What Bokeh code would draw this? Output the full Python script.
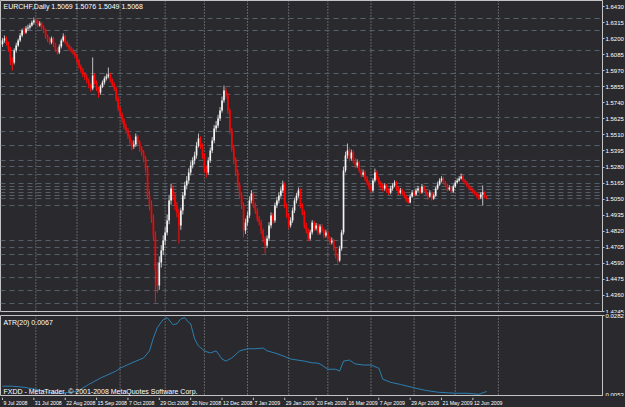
import pandas as pd
from bokeh.plotting import figure
from bokeh.layouts import column
from bokeh.models import Range1d, FixedTicker, PrintfTickFormatter, Span, Label, ColumnDataSource
from bokeh.core.properties import value
from bokeh.embed import file_html
from bokeh.resources import INLINE

symbol_title = "EURCHF,Daily  1.5069 1.5076 1.5049 1.5068"
atr_title = "ATR(20) 0.0067"
footer = "FXDD - MetaTrader, \u00a9 2001-2008 MetaQuotes Software Corp."

first_date = "2008-07-09"
holidays = ["2008-12-25", "2009-01-01"]

# prices in pips (1/10000)
open_pips = [
16160,16186,16201,16165,16129,16043,16029,16115,16151,16186,
16222,16258,16244,16272,16280,16294,16315,16330,16323,16294,
16308,16280,16258,16215,16194,16172,16201,16158,16122,16100,
16143,16186,16215,16172,16151,16129,16115,16100,16079,16043,
16000,15971,15943,15928,15900,15864,15842,15936,15885,15842,
15814,15857,15885,15914,15928,15943,15900,15871,15842,15771,
15699,15656,15613,15570,15541,15499,15456,15427,15441,15499,
15456,15413,15384,15341,15269,15076,15004,14911,14789,14538,
14431,14596,14682,14753,14811,14897,15040,15126,15076,15004,
14954,14861,14968,15076,15148,15183,15241,15291,15327,15362,
15434,15484,15434,15362,15269,15241,15327,15398,15470,15556,
15577,15628,15685,15757,15828,15792,15685,15541,15413,15327,
15241,15148,15076,15004,14825,14882,14933,15040,15090,15004,
14968,14911,14882,14825,14768,14718,14768,14861,14933,14897,
15004,15040,15076,15112,15155,15004,14933,14861,14897,14968,
15040,15076,15112,15004,14954,14861,14825,14768,14811,14882,
14839,14861,14811,14854,14825,14789,14811,14768,14739,14753,
14696,14646,14610,14696,14811,15255,15362,15398,15341,15384,
15327,15291,15312,15255,15226,15241,15198,15169,15140,15112,
15183,15241,15198,15169,15140,15126,15148,15112,15097,15126,
15148,15169,15126,15097,15112,15090,15069,15047,15026,15069,
15097,15083,15112,15126,15097,15140,15112,15083,15069,15097,
15054,15076,15126,15155,15183,15198,15169,15148,15119,15133,
15104,15140,15169,15183,15198,15212,15183,15169,15148,15133,
15119,15104,15090,15076,15061,15083,15097,15069]

high_pips = [
16205,16222,16215,16178,16140,16065,16130,16170,16200,16240,
16272,16280,16290,16300,16310,16330,16351,16345,16335,16325,
16318,16295,16270,16230,16210,16215,16212,16170,16135,16160,
16200,16237,16225,16185,16165,16145,16130,16112,16090,16055,
16015,15990,15960,15945,15915,15880,16065,15950,15900,15855,
15870,15900,15930,15950,15993,15955,15915,15885,15855,15785,
15715,15670,15630,15590,15560,15515,15475,15470,15520,15510,
15470,15430,15400,15360,15290,15110,15040,14940,14820,14600,
14640,14720,14790,14850,14940,15080,15160,15150,15100,15030,
14980,14990,15100,15175,15215,15270,15320,15350,15390,15460,
15520,15500,15450,15380,15290,15350,15420,15495,15580,15610,
15655,15710,15785,15864,15850,15810,15700,15560,15440,15350,
15265,15170,15100,15025,14910,14960,15070,15115,15105,15025,
14985,14930,14900,14840,14785,14790,14885,14955,14950,15025,
15065,15100,15135,15183,15170,15020,14950,14920,14990,15060,
15095,15133,15125,15020,14970,14880,14840,14830,14900,14895,
14880,14875,14870,14870,14840,14830,14825,14785,14775,14765,
14710,14660,14715,14830,15280,15390,15448,15420,15405,15400,
15345,15335,15325,15270,15262,15255,15215,15185,15155,15200,
15269,15255,15212,15180,15160,15165,15160,15130,15145,15165,
15185,15180,15140,15130,15125,15105,15080,15060,15085,15115,
15110,15128,15145,15135,15160,15150,15125,15095,15115,15105,
15090,15140,15175,15200,15215,15210,15180,15160,15150,15145,
15155,15185,15200,15215,15233,15225,15195,15180,15160,15145,
15130,15115,15100,15090,15100,15148,15105,15076]

low_pips = [
16140,16170,16150,16105,16010,15971,16015,16100,16140,16175,
16210,16230,16235,16255,16265,16285,16300,16305,16280,16285,
16265,16240,16200,16175,16155,16160,16140,16105,16085,16090,
16130,16175,16160,16140,16115,16100,16085,16060,16025,15985,
15955,15925,15905,15880,15845,15820,15830,15870,15825,15778,
15800,15845,15870,15900,15915,15885,15855,15825,15750,15680,
15635,15590,15550,15520,15480,15435,15400,15410,15425,15440,
15390,15360,15315,15240,15050,14970,14880,14750,14309,14380,
14400,14560,14650,14720,14790,14870,15010,15040,14970,14920,
14732,14830,14940,15050,15120,15160,15220,15270,15300,15340,
15420,15410,15340,15240,15205,15225,15310,15380,15450,15530,
15560,15610,15670,15740,15770,15660,15515,15390,15300,15215,
15120,15050,14980,14775,14800,14860,14915,15020,14985,14945,
14890,14860,14800,14740,14660,14700,14750,14840,14875,14880,
14985,15020,15060,15095,14985,14915,14840,14845,14880,14950,
15020,15060,14985,14935,14840,14805,14750,14755,14795,14820,
14825,14795,14795,14810,14770,14775,14750,14720,14725,14680,
14625,14589,14600,14680,14795,15240,15340,15320,15325,15305,
15270,15275,15240,15205,15210,15180,15150,15120,15095,15100,
15170,15185,15150,15125,15105,15110,15095,15080,15085,15110,
15135,15110,15080,15085,15075,15055,15030,15019,15020,15060,
15070,15075,15100,15085,15090,15100,15070,15045,15060,15040,
15045,15065,15115,15145,15170,15155,15135,15105,15110,15090,
15095,15130,15160,15175,15190,15170,15155,15135,15120,15105,
15090,15075,15060,15045,15050,15004,15055,15049]

close_pips = [
16186,16201,16165,16129,16043,16029,16115,16151,16186,16222,
16258,16244,16272,16280,16294,16315,16330,16323,16294,16308,
16280,16258,16215,16194,16172,16201,16158,16122,16100,16143,
16186,16215,16172,16151,16129,16115,16100,16079,16043,16000,
15971,15943,15928,15900,15864,15842,15936,15885,15842,15814,
15857,15885,15914,15928,15943,15900,15871,15842,15771,15699,
15656,15613,15570,15541,15499,15456,15427,15441,15499,15456,
15413,15384,15341,15269,15076,15004,14911,14789,14538,14431,
14596,14682,14753,14811,14897,15040,15126,15076,15004,14954,
14861,14968,15076,15148,15183,15241,15291,15327,15362,15434,
15484,15434,15362,15269,15241,15327,15398,15470,15556,15577,
15628,15685,15757,15828,15792,15685,15541,15413,15327,15241,
15148,15076,15004,14825,14882,14933,15040,15090,15004,14968,
14911,14882,14825,14768,14718,14768,14861,14933,14897,15004,
15040,15076,15112,15155,15004,14933,14861,14897,14968,15040,
15076,15112,15004,14954,14861,14825,14768,14811,14882,14839,
14861,14811,14854,14825,14789,14811,14768,14739,14753,14696,
14646,14610,14696,14811,15255,15362,15398,15341,15384,15327,
15291,15312,15255,15226,15241,15198,15169,15140,15112,15183,
15241,15198,15169,15140,15126,15148,15112,15097,15126,15148,
15169,15126,15097,15112,15090,15069,15047,15026,15069,15097,
15083,15112,15126,15097,15140,15112,15083,15069,15097,15054,
15076,15126,15155,15183,15198,15169,15148,15119,15133,15104,
15140,15169,15183,15198,15212,15183,15169,15148,15133,15119,
15104,15090,15076,15061,15083,15097,15069,15068]

atr_bar = [0,5,11,17,23,30,38,44,50,58,60,66,72,75,77,79,82,84,87,89,
           91,93,95,96,98,100,103,106,109,112,114,117,121,125,129,133,135,139,143,147,
           154,158,160,162,166,170,172,174,177,180,184,188,192,194,198,203,211,216,222,231,
           237,243,247]
atr_value = [0.0082,0.0082,0.0079,0.0073,0.0065,0.0062,0.0067,0.0087,0.0105,0.0125,
             0.0133,0.0148,0.0162,0.0182,0.0219,0.0248,0.0271,0.0276,0.0256,0.0259,
             0.0273,0.0276,0.0262,0.0259,0.0216,0.0196,0.0182,0.0176,0.0182,0.0159,
             0.0153,0.0162,0.0182,0.0188,0.0188,0.0190,0.0182,0.0176,0.0168,0.0159,
             0.0153,0.0148,0.0148,0.0145,0.0130,0.0130,0.0125,0.0153,0.0156,0.0145,
             0.0142,0.0142,0.0133,0.0102,0.0093,0.0087,0.0076,0.0070,0.0065,0.0062,
             0.0062,0.0059,0.0067]

hline_levels = [1.6344, 1.6258, 1.6115, 1.5950, 1.5857, 1.5800, 1.5635, 1.5534, 1.5434,
                1.5327, 1.5284, 1.5226, 1.5162, 1.5140, 1.5119, 1.5097, 1.5076, 1.5054,
                1.5004, 1.4753, 1.4703, 1.4653, 1.4581, 1.4488, 1.4395, 1.4302]

price_ticks = [1.6430, 1.6315, 1.6200, 1.6085, 1.5970, 1.5855, 1.5740, 1.5625, 1.5510, 1.5395,
               1.5280, 1.5165, 1.5050, 1.4935, 1.4820, 1.4705, 1.4590, 1.4475, 1.4360, 1.4245]
atr_ticks = [0.0053, 0.0282]

date_label_idx = [0, 16, 32, 48, 64, 80, 96, 112, 128, 144, 160, 176, 192, 208, 224, 240]
date_labels = ["9 Jul 2008", "31 Jul 2008", "22 Aug 2008", "15 Sep 2008", "7 Oct 2008",
               "29 Oct 2008", "20 Nov 2008", "12 Dec 2008", "7 Jan 2009", "29 Jan 2009",
               "20 Feb 2009", "16 Mar 2009", "7 Apr 2009", "29 Apr 2009", "21 May 2009",
               "12 Jun 2009"]

BG = "#2a2a2e"
FRAME = "#c4c4c4"
TXT = "#ffffff"
FONT = "Liberation Sans"
AXFS = "6px"

n = len(close_pips)
idx = list(range(n))
o = [v / 10000 for v in open_pips]
h = [v / 10000 for v in high_pips]
l = [v / 10000 for v in low_pips]
c = [v / 10000 for v in close_pips]
bull = [cc >= oo for oo, cc in zip(o, c)]
src = ColumnDataSource(dict(
    x=idx, high=h, low=l,
    top=[max(a, b) for a, b in zip(o, c)],
    bottom=[min(a, b) for a, b in zip(o, c)],
    body=["#f4f4f4" if b else "#ff0000" for b in bull],
    wick=["#c0c0c0" if b else "#ff1010" for b in bull],
))

# month separators (vertical grid) from the trading calendar, up to the first month after the data
all_days = [d for d in pd.bdate_range(first_date, periods=300) if d.strftime("%Y-%m-%d") not in holidays]
month_starts = [i for i in range(1, len(all_days)) if all_days[i].month != all_days[i - 1].month]
month_starts = [m for m in month_starts if m < n + 10]

FW = 602
xr = Range1d(-1.02, -1.02 + FW / 1.96)


def style_y(ax):
    ax.formatter = PrintfTickFormatter(format="%.4f")
    ax.major_label_text_font = FONT
    ax.major_label_text_font_size = AXFS
    ax.major_label_text_color = TXT
    ax.major_label_standoff = 1
    ax.major_tick_out = 2
    ax.major_tick_in = 0
    ax.minor_tick_out = 0
    ax.minor_tick_in = 0
    ax.major_tick_line_color = FRAME
    ax.axis_line_color = FRAME


p = figure(frame_width=FW, frame_height=311, x_range=xr, y_range=Range1d(1.4245, 1.6473),
           y_axis_location="right", output_backend="svg", toolbar_location=None,
           min_border_left=0, min_border_top=0, min_border_bottom=2, min_border_right=0,
           background_fill_color=BG, border_fill_color=BG, outline_line_color=FRAME)
p.xaxis.visible = False
p.grid.visible = False
ya = p.yaxis[0]
ya.ticker = FixedTicker(ticks=price_ticks)
style_y(ya)

for m in month_starts:
    p.add_layout(Span(location=m, dimension="height", line_color="#9c9c9c",
                      line_dash="1 2", line_width=1, level="underlay"))
for lv in hline_levels:
    p.add_layout(Span(location=lv, dimension="width", line_color="#56626c",
                      line_dash="5 4", line_width=1, level="underlay"))

p.segment(x0="x", y0="low", x1="x", y1="high", source=src, line_color="wick", line_width=1)
p.vbar(x="x", width=0.85, top="top", bottom="bottom", source=src, fill_color="body", line_color=None)

for lv in hline_levels:
    p.add_layout(Label(x=FW + 2, x_units="screen", y=lv, text="%.4f" % lv, text_font=FONT,
                       text_font_size=AXFS, text_color="#d6dde4", text_baseline="middle",
                       background_fill_color="#6b7d8f"))

p.add_layout(Label(x=3, y=309, x_units="screen", y_units="screen", text=symbol_title,
                   text_font=FONT, text_font_size="7px", text_color=TXT, text_baseline="top"))

a = figure(frame_width=FW, frame_height=81, x_range=xr, y_range=Range1d(0.00528, 0.02822),
           y_axis_location="right", output_backend="svg", toolbar_location=None,
           min_border_left=0, min_border_top=2, min_border_bottom=0, min_border_right=0,
           background_fill_color=BG, border_fill_color=BG, outline_line_color=FRAME)
a.grid.visible = False
a.xaxis.visible = False
ay = a.yaxis[0]
ay.ticker = FixedTicker(ticks=atr_ticks)
style_y(ay)

for m in month_starts:
    a.add_layout(Span(location=m, dimension="height", line_color="#9c9c9c",
                      line_dash="1 2", line_width=1, level="underlay"))

a.line(x=atr_bar, y=atr_value, line_color="#2b7fb0", line_width=1)

a.add_layout(Label(x=3, y=78, x_units="screen", y_units="screen", text=atr_title,
                   text_font=FONT, text_font_size="7px", text_color=TXT, text_baseline="top"))
a.add_layout(Label(x=3, y=2, x_units="screen", y_units="screen", text=footer,
                   text_font=FONT, text_font_size="7px", text_color=TXT, text_baseline="bottom"))

# time scale strip
t = figure(frame_width=FW, frame_height=11, x_range=xr, y_range=Range1d(0, 11),
           output_backend="svg", toolbar_location=None,
           min_border_left=0, min_border_top=0, min_border_bottom=0, min_border_right=0,
           background_fill_color=BG, border_fill_color=BG, outline_line_color=None)
t.axis.visible = False
t.grid.visible = False
t.segment(x0=date_label_idx, y0=[11] * len(date_label_idx), x1=date_label_idx,
          y1=[8.5] * len(date_label_idx), line_color=FRAME, line_width=1)
t.text(x=date_label_idx, y=[8.5] * len(date_label_idx), text=date_labels,
       text_font=value(FONT), text_font_size="5.2px", text_color=TXT,
       text_align="left", text_baseline="top", x_offset=1)

layout = column(p, a, t, spacing=0, styles={"background-color": BG})
open("out.html", "w").write(file_html(layout, INLINE))
